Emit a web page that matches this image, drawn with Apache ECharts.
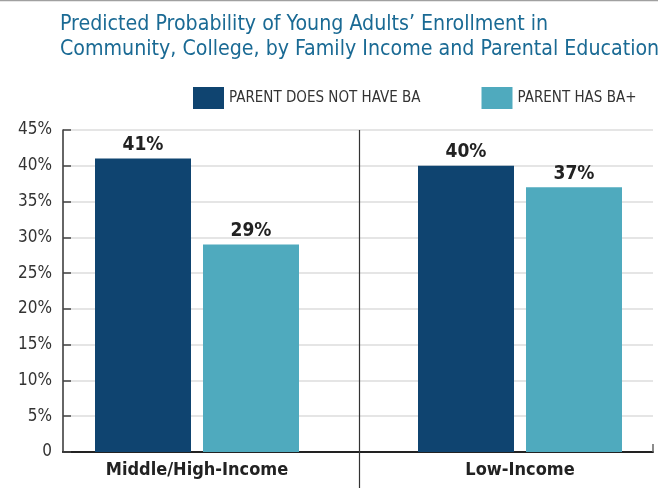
<!DOCTYPE html>
<html>
<head>
<meta charset="utf-8">
<script src="https://cdn.jsdelivr.net/npm/echarts@6/dist/echarts.min.js"></script>
<style>
  html, body { margin: 0; padding: 0; background: #fff; }
  #chart { width: 658px; height: 488px; }
</style>
</head>
<body>
<div id="chart"></div>
<script>
// Income groups on the x axis
const categories = ['Middle/High-Income', 'Low-Income'];
// Predicted probability (%) by parental education
const noBA = [41, 40];
const hasBA = [29, 37];
const seriesNames = ['PARENT DOES NOT HAVE BA', 'PARENT HAS BA+'];
// Value axis settings
const yMin = 0, yMax = 45, yStep = 5;

const FONT = "'Liberation Sans Narrow', 'DejaVu Sans Condensed', 'Roboto', sans-serif";
const DARK = '#0f4470';
const TEAL = '#4faabe';

const chart = echarts.init(document.getElementById('chart'), null, { renderer: 'canvas' });

const barLabel = {
  show: true,
  position: 'top',
  distance: 4,
  formatter: p => p.value + '%',
  fontFamily: FONT,
  fontSize: 19,
  fontWeight: 'bold',
  color: '#222'
};

const option = {
  animation: false,
  backgroundColor: '#fff',
  textStyle: { fontFamily: FONT },
  title: {
    text: 'Predicted Probability of Young Adults\u2019 Enrollment in\nCommunity, College, by Family Income and Parental Education',
    left: 55,
    top: 7,
    textStyle: {
      fontFamily: FONT,
      fontSize: 21.2,
      fontWeight: 'normal',
      color: '#1a6a94',
      lineHeight: 25
    }
  },
  legend: {
    data: seriesNames,
    orient: 'horizontal',
    left: 193,
    top: 87,
    width: 462,
    padding: 0,
    itemWidth: 31,
    itemHeight: 22,
    itemGap: 61,
    icon: 'rect',
    textStyle: { fontFamily: FONT, fontSize: 15, color: '#333' }
  },
  grid: [
    // frame for the value axis, gridlines and the baseline
    { left: 63, right: 5, top: 130, bottom: 36, outerBoundsMode: 'none', containLabel: false },
    // frame holding the bars, centred on the two income groups
    { left: 35.5, width: 646, top: 130, bottom: 36, outerBoundsMode: 'none', containLabel: false }
  ],
  xAxis: [
    {
      type: 'category',
      gridIndex: 0,
      data: categories,
      axisLine: { show: true, lineStyle: { color: '#222', width: 2 } },
      axisTick: { show: false },
      axisLabel: { show: false },
      splitLine: { show: false }
    },
    {
      type: 'category',
      gridIndex: 1,
      data: categories,
      axisLine: { show: false },
      axisTick: { show: false },
      splitLine: { show: false },
      axisLabel: {
        margin: 9,
        fontFamily: FONT,
        fontSize: 18,
        fontWeight: 'bold',
        color: '#222'
      }
    }
  ],
  yAxis: [
    {
      type: 'value',
      gridIndex: 0,
      min: yMin,
      max: yMax,
      interval: yStep,
      axisLine: { show: true, lineStyle: { color: '#333', width: 1.5 } },
      axisTick: { show: true, inside: true, length: 8, lineStyle: { color: '#444', width: 1.5 } },
      axisLabel: {
        margin: 11,
        fontFamily: FONT,
        fontSize: 17,
        color: '#333',
        formatter: v => (v === 0 ? '0' : v + '%')
      },
      splitLine: { show: true, lineStyle: { color: '#dcdcdc', width: 1.5 } }
    },
    {
      type: 'value',
      gridIndex: 1,
      min: yMin,
      max: yMax,
      interval: yStep,
      show: false
    }
  ],
  series: [
    {
      name: seriesNames[0],
      type: 'bar',
      xAxisIndex: 1,
      yAxisIndex: 1,
      data: noBA,
      barWidth: 96,
      barGap: '12.5%',
      itemStyle: { color: DARK },
      label: barLabel
    },
    {
      name: seriesNames[1],
      type: 'bar',
      xAxisIndex: 1,
      yAxisIndex: 1,
      data: hasBA,
      barWidth: 96,
      barGap: '12.5%',
      itemStyle: { color: TEAL },
      label: barLabel
    }
  ]
};

chart.setOption(option);

// Divider between the income groups, thin rule along the top edge, and the end tick of the baseline
const c0 = chart.convertToPixel({ xAxisIndex: 1 }, categories[0]);
const c1 = chart.convertToPixel({ xAxisIndex: 1 }, categories[1]);
const yTop = chart.convertToPixel({ yAxisIndex: 0 }, yMax);
const yBase = chart.convertToPixel({ yAxisIndex: 0 }, yMin);
const divX = Math.round((c0 + c1) / 2) + 0.5;
const endX = 658 - 5;

chart.setOption({
  graphic: [
    {
      type: 'line',
      shape: { x1: divX, y1: yTop, x2: divX, y2: 488 },
      style: { stroke: '#333', lineWidth: 1.2 },
      z: 10
    },
    {
      type: 'line',
      shape: { x1: 0, y1: 0.5, x2: 658, y2: 0.5 },
      style: { stroke: '#a0a0a0', lineWidth: 1.5 },
      z: 10
    },
    {
      type: 'line',
      shape: { x1: endX, y1: yBase, x2: endX, y2: yBase - 8 },
      style: { stroke: '#666', lineWidth: 1.5 },
      z: 10
    }
  ]
});
</script>
</body>
</html>
